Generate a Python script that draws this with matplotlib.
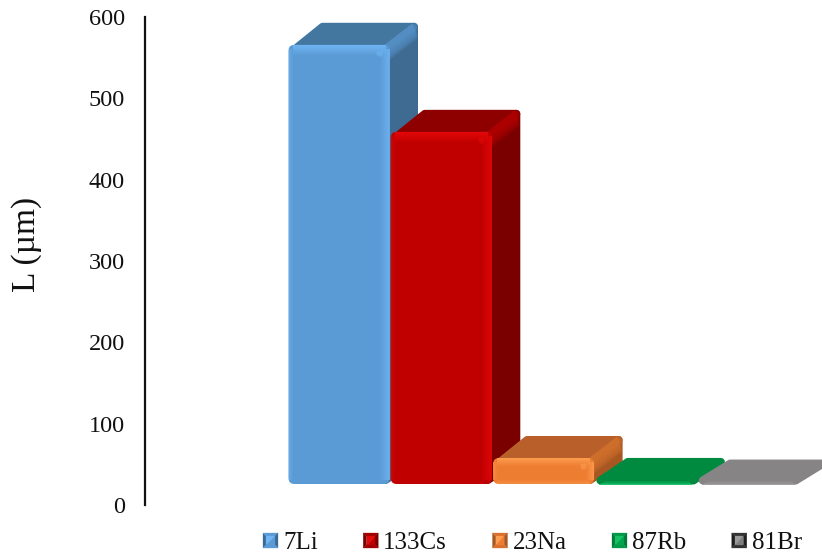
import matplotlib
matplotlib.use("Agg")
import matplotlib.pyplot as plt
from matplotlib.patches import FancyBboxPatch, Polygon, Rectangle
from matplotlib.legend_handler import HandlerBase

categories = ["7Li", "133Cs", "23Na", "87Rb", "81Br"]
values = [540, 433, 32, 5, 3]
y_ticks = [0, 100, 200, 300, 400, 500, 600]
y_label = "L (µm)"

front_cols = ["#5B9BD5", "#C00000", "#ED7D31", "#00A44C", "#7F7F7F"]
light_cols = ["#70B6F6", "#E60808", "#FF9E52", "#14C266", "#9C9A9A"]
top_cols = ["#44779F", "#8E0000", "#B9602A", "#008A40", "#868484"]
side_cols = ["#3F6A91", "#7A0000", "#A85722", "#007A38", "#777575"]
edge_cols = ["#5590C6", "#B00000", "#D0702C", "#009040", "#8A8888"]
legend_side = ["#3A6A96", "#7A0000", "#A85722", "#007A38", "#1E1E1E"]
legend_rim = ["#5B9BD5", "#A00000", "#D9702C", "#009A48", "#333333"]

plt.rcParams["font.family"] = ["Liberation Serif", "DejaVu Serif"]
W, H = 822, 556
fig = plt.figure(figsize=(W / 100, H / 100), dpi=100)
ax = fig.add_axes([145 / W, 1 - 505 / H, (W - 145) / W, (505 - 17) / H])
px = 1 / 102.3          # data x per pixel
py = 600 / 488          # data y per pixel
ax.set_xlim((145 - 339) * px, (W - 339) * px)
ax.set_ylim(0, 600)
for s in ("top", "right", "bottom"):
    ax.spines[s].set_visible(False)
ax.spines["left"].set_linewidth(1.6)
ax.spines["left"].set_color("#111111")
ax.spines["left"].set_bounds(0, 600)
ax.set_xticks([])
ax.set_yticks(y_ticks)
ax.tick_params(axis="y", length=0, pad=14.4, labelsize=17.5, labelcolor="#111111")
ax.set_ylabel(y_label, fontsize=24, va="center", color="#111111")
ax.yaxis.set_label_coords((27 - 145) / (W - 145), (505 - 244) / 488)

BASE = 21 * py
DX, DY = 28.5 * px, 22 * py
HALF = 0.5 * 101 * px
R_PX = 4                # corner radius of the side/top faces
ROUND_LW = 2 * R_PX * 0.72


def poly(pts, col, z, lw=ROUND_LW):
    ax.add_patch(Polygon(pts, closed=True, fc=col, ec=col, lw=lw,
                         joinstyle="round", zorder=z))


def strip(x, y, w, h, col, a, z):
    ax.add_patch(Rectangle((x, y), w, h, fc=col, ec="none", alpha=a, zorder=z))


for i, v in enumerate(values):
    x0, x1 = i - HALF, i + HALF
    y0, y1 = BASE, BASE + v
    z = 3 + i
    ix, iy = R_PX * px, R_PX * py
    if v < 10:
        # nearly flat bars: one soft-cornered slab with a bright lower rim
        poly([(x0 + 5 * px, y0 + 3.5 * py), (x1 - 3 * px, y0 + 3.5 * py),
              (x1 + DX - 4 * px, y1 + DY - 4 * py), (x0 + DX + 4 * px, y1 + DY - 4 * py)],
             top_cols[i], z)
        for k in range(4):
            strip(x0 + (4 + 2 * k) * px, y0 - 0.5 * py + k * py, x1 - x0 - (8 + 3 * k) * px, 1.0 * py,
                  light_cols[i], 0.85 * (4 - k) / 4, z + 0.04)
        continue
    # side face
    poly([(x1 - ix, y0 + iy), (x1 + DX - ix, y0 + DY + iy * 0.2),
          (x1 + DX - ix, y1 + DY - iy), (x1 - ix, y1 - iy)], side_cols[i], z)
    # top face
    poly([(x0 + 2.2 * ix, y1 - iy * 0.6), (x0 + DX + 1.4 * ix, y1 + DY - iy),
          (x1 + DX - ix, y1 + DY - iy), (x1 - ix, y1 - iy * 0.6)], top_cols[i], z + 0.01)
    # lighter bevel running along the top-right edge
    for k in range(6):
        d = (k + 1) * 2.6
        ax.add_patch(Polygon([(x1 - 6 * px, y1 - 1 * py), (x1 + DX - 6 * px, y1 + DY - 1 * py),
                              (x1 + DX - 0.5 * px, y1 + DY - d * py), (x1 - 0.5 * px, y1 - d * py)],
                             closed=True, fc=edge_cols[i], ec="none", alpha=0.35, zorder=z + 0.02))
    # front face
    r = 6
    ax.add_patch(FancyBboxPatch((x0 + r * px, y0 + r * py), x1 - x0 - 2 * r * px, v - 2 * r * py,
                                boxstyle=f"round,pad={r * px},rounding_size={r * px}",
                                mutation_aspect=py / px,
                                fc=front_cols[i], ec="none", zorder=z + 0.03))
    # soft bevel strips on the front
    band = 10 if v > 100 else 8
    for k in range(band):
        f = (band - k) / band
        strip(x0 + 4 * px, y1 - (k + 1) * py, x1 - x0 - 8 * px, 1.0 * py, light_cols[i], 0.9 * f, z + 0.04)
        strip(x1 - (k + 1) * px, y0 + 4 * py, 1.0 * px, v - 8 * py, light_cols[i], 0.75 * f, z + 0.04)
    for k in range(4):
        f = (4 - k) / 4
        strip(x0 + k * px, y0 + 4 * py, 1.0 * px, v - 8 * py, light_cols[i], 0.45 * f, z + 0.04)
        if v <= 100:
            strip(x0 + 4 * px, y0 + k * py, x1 - x0 - 8 * px, 1.0 * py, light_cols[i], 0.45 * f, z + 0.04)
    # small highlight at the front face's top-right corner
    ax.scatter([x1 - 11 * px], [y1 - 8 * py], s=20, color=light_cols[i], alpha=0.55,
               linewidths=0, zorder=z + 0.05)


class PyramidHandler(HandlerBase):
    def __init__(self, front, side, rim, light):
        super().__init__()
        self.c = (front, side, rim, light)

    def create_artists(self, legend, orig, xd, yd, w, h, fontsize, trans):
        size = 10.8
        b = 2.4
        x0, y0 = -xd, -yd + (h - size) / 2
        x1, y1 = x0 + size, y0 + size
        front, side, rim, light = self.c
        a0, a1, b0, b1 = x0 + b, x1 - b, y0 + b, y1 - b
        faces = [([(x0, y0), (x0, y1), (a0, b1), (a0, b0)], side),
                 ([(x0, y1), (x1, y1), (a1, b1), (a0, b1)], rim),
                 ([(x1, y1), (x1, y0), (a1, b0), (a1, b1)], side),
                 ([(x1, y0), (x0, y0), (a0, b0), (a1, b0)], rim),
                 ([(a0, b0), (a0, b1), (a1, b1)], light),
                 ([(a0, b0), (a1, b0), (a1, b1)], front)]
        return [Polygon(p, closed=True, fc=c, ec=c, lw=0.2, transform=trans) for p, c in faces]


handles = [Rectangle((0, 0), 1, 1) for _ in categories]
hmap = {h: PyramidHandler(front_cols[i], legend_side[i], legend_rim[i], light_cols[i])
        for i, h in enumerate(handles)}
fig.legend(handles, categories, handler_map=hmap, ncol=5, frameon=False,
           prop={"size": 18}, loc="center left", labelcolor="#111111",
           bbox_to_anchor=(263 / W, 1 - 543 / H), bbox_transform=fig.transFigure,
           handlelength=0.6, handleheight=0.7, handletextpad=0.2, columnspacing=1.82,
           borderpad=0, borderaxespad=0)

fig.savefig("out.png", dpi=100)
